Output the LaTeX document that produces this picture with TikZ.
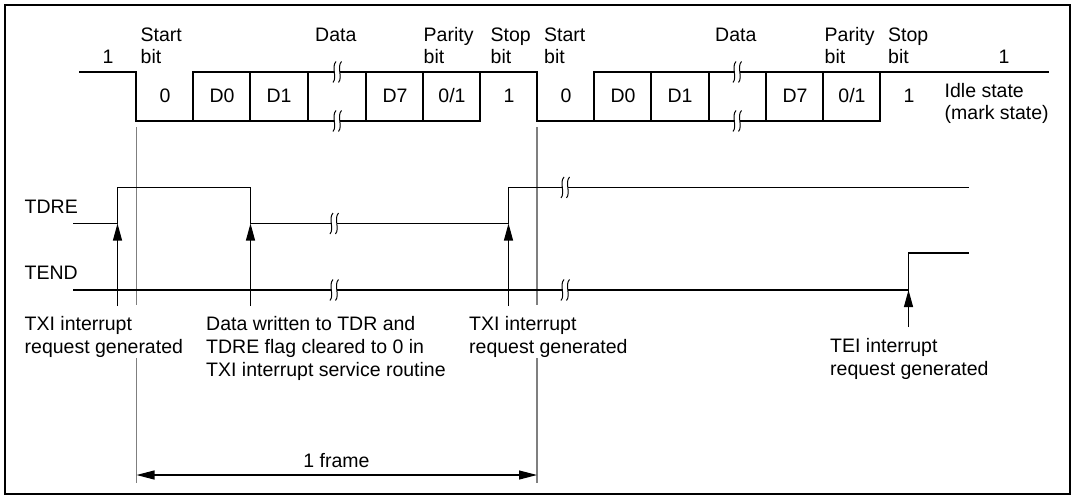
\documentclass[tikz,border=0pt]{standalone}
\usepackage{fontspec}
\setmainfont{Liberation Sans}
\usetikzlibrary{arrows.meta}
\definecolor{markgray}{HTML}{7F7F7F}
\tikzset{
  wave/.style={line width=1.1pt, line cap=rect},
  cell/.style={line width=1.1pt},
  marker/.style={draw=markgray, line width=1.1pt},
  lbl/.style={inner sep=0pt, font=\fontsize{19.5}{22}\selectfont, align=left, anchor=north west},
  lblb/.style={inner sep=0pt, font=\fontsize{19.5}{23}\selectfont, align=left, anchor=north west},
  val/.style={inner sep=0pt, font=\fontsize{19.5}{22}\selectfont, anchor=base},
  sig/.style={inner sep=0pt, font=\fontsize{19.5}{22}\selectfont, anchor=base west},
  evarrow/.style={line width=1.1pt, -{Triangle[length=17pt,width=9pt]}},
  brk/.pic={
    \fill[white] (-1,-10.5) .. controls (-6,-5) and (0.5,5) .. (-4,10.5) -- (1.5,10.5) .. controls (6,5) and (-0.5,-5) .. (4.5,-10.5) -- cycle;
    \draw[line width=1pt] (-1,-10.5) .. controls (-6,-5) and (0.5,5) .. (-4,10.5);
    \draw[line width=1pt] (4.5,-10.5) .. controls (-0.5,-5) and (6,5) .. (1.5,10.5);
  }
}
\begin{document}
\begin{tikzpicture}[x=1pt,y=-1pt]
\useasboundingbox (0,0) rectangle (1075,498);
\draw[line width=2.6pt] (5,5) rectangle (1070,494);

% ---------- serial data waveform ----------
\draw[wave] (80,72) -- (136,72) -- (136,121) -- (480,121);
\draw[wave] (193,72) -- (537,72) -- (537,121) -- (880,121);
\foreach \x in {193,250,308,366,423,480}{\draw[cell] (\x,72) -- (\x,121);}
\draw[wave] (594,72) -- (1048,72);
\foreach \x in {594,651,709,766,823,880}{\draw[cell] (\x,72) -- (\x,121);}
\pic at (337,72) {brk};
\pic at (337,121) {brk};
\pic at (737,72) {brk};
\pic at (737,121) {brk};

% bit values
\node[val] (v0a) at (165,102.5) {0};
\node[val] (d0a) at (222,102.5) {D0};
\node[val] (d1a) at (279,102.5) {D1};
\node[val] (d7a) at (395,102.5) {D7};
\node[val] (pa)  at (452,102.5) {0/1};
\node[val] (sa)  at (509,102.5) {1};
\node[val] (v0b) at (566,102.5) {0};
\node[val] (d0b) at (623,102.5) {D0};
\node[val] (d1b) at (680,102.5) {D1};
\node[val] (d7b) at (795,102.5) {D7};
\node[val] (pb)  at (852,102.5) {0/1};
\node[val] (sb)  at (909,102.5) {1};

% field labels
\node[val] (idle1) at (108,63.5) {1};
\node[lbl] (st1) at (140.5,27.5) {Start\\bit};
\node[lbl] (da1) at (315,27.5) {Data};
\node[lbl] (pa1) at (423.5,27.5) {Parity\\bit};
\node[lbl] (sp1) at (490.5,27.5) {Stop\\bit};
\node[lbl] (st2) at (544,27.5) {Start\\bit};
\node[lbl] (da2) at (715,27.5) {Data};
\node[lbl] (pa2) at (824.5,27.5) {Parity\\bit};
\node[lbl] (sp2) at (888,27.5) {Stop\\bit};
\node[val] (idle2) at (1004,63.5) {1};
\node[lbl] (idle) at (944.5,83) {Idle state\\(mark state)};

% ---------- frame markers (interrupted behind the labels) ----------
\coordinate (m1t) at (136.5,127);
\coordinate (m1u) at (136.5,305);
\coordinate (m1l) at (136.5,358);
\coordinate (m1b) at (136.5,483);
\coordinate (m2t) at (537,127);
\coordinate (m2u) at (537,305);
\coordinate (m2l) at (537,358);
\coordinate (m2b) at (537,483);
\draw[marker] (m1t) -- (m1u);
\draw[marker] (m1l) -- (m1b);
\draw[marker] (m2t) -- (m2u);
\draw[marker] (m2l) -- (m2b);

% ---------- TDRE / TEND ----------
\node[sig] (tdre) at (24.5,213.3) {TDRE};
\node[sig] (tend) at (24.5,279.5) {TEND};
\draw[wave] (74,223.5) -- (117.5,223.5) -- (117.5,187.5) -- (250.5,187.5) -- (250.5,223.5) -- (508.5,223.5) -- (508.5,187.5) -- (968,187.5);
\draw[wave] (74,290) -- (908.5,290) -- (908.5,253) -- (968,253);
\pic at (334,223.5) {brk};
\pic at (565,187.5) {brk};
\pic at (334,290) {brk};
\pic at (565,290) {brk};

% ---------- event arrows ----------
\coordinate (a1s) at (117.5,306);
\coordinate (a1e) at (117.5,223.5);
\coordinate (a2s) at (250.5,306);
\coordinate (a2e) at (250.5,223.5);
\coordinate (a3s) at (508.5,306);
\coordinate (a3e) at (508.5,223.5);
\coordinate (a4s) at (908.5,327);
\coordinate (a4e) at (908.5,290);
\draw[evarrow] (a1s) -- (a1e);
\draw[evarrow] (a2s) -- (a2e);
\draw[evarrow] (a3s) -- (a3e);
\draw[evarrow] (a4s) -- (a4e);

\node[lblb] (txi1) at (24.5,316) {TXI interrupt\\request generated};
\node[lblb] (dw) at (206,316) {Data written to TDR and\\TDRE flag cleared to 0 in\\TXI interrupt service routine};
\node[lblb] (txi2) at (469,316) {TXI interrupt\\request generated};
\node[lblb] (tei) at (830,338.5) {TEI interrupt\\request generated};

% ---------- 1 frame ----------
\coordinate (f1) at (136.5,475);
\coordinate (f2) at (537,475);
\draw[line width=1.1pt, {Triangle[length=18pt,width=9pt]}-{Triangle[length=18pt,width=9pt]}] (f1) -- (f2);
\node[val] (fr) at (336.5,467) {1 frame};
\end{tikzpicture}
\end{document}
